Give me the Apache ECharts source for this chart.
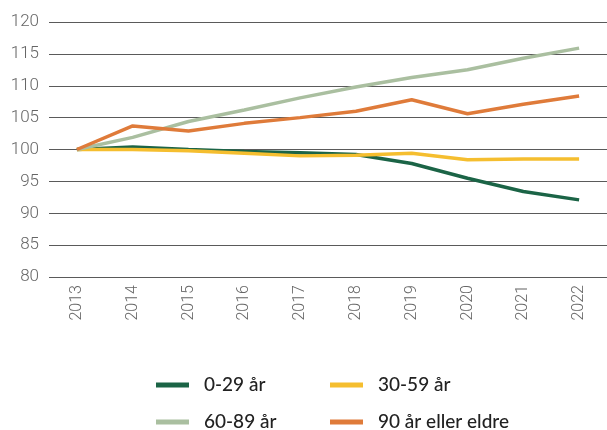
<!DOCTYPE html>
<html>
<head>
<meta charset="utf-8">
<script src="https://cdn.jsdelivr.net/npm/echarts@6/dist/echarts.min.js"></script>
<style>
  html, body { margin: 0; padding: 0; background: #fff; }
  #chart { width: 607px; height: 430px; }
</style>
</head>
<body>
<div id="chart"></div>
<script>
const years = ["2013", "2014", "2015", "2016", "2017", "2018", "2019", "2020", "2021", "2022"];
const age0to29 = [100, 100.4, 100.0, 99.7, 99.5, 99.2, 97.8, 95.5, 93.4, 92.1];
const age30to59 = [100, 100.0, 99.8, 99.4, 99.0, 99.1, 99.4, 98.4, 98.5, 98.5];
const age60to89 = [100, 101.9, 104.4, 106.2, 108.1, 109.8, 111.3, 112.5, 114.3, 115.9];
const age90plus = [100, 103.7, 102.9, 104.1, 105.0, 106.0, 107.8, 105.6, 107.1, 108.4];

const names = ["0-29 år", "30-59 år", "60-89 år", "90 år eller eldre"];
const colors = ["#1b6446", "#f5be2f", "#aabfa0", "#df7b3a"];

const chart = echarts.init(document.getElementById("chart"));

// one legend per item so the two columns line up
function legendItem(name, left, top) {
  return {
    data: [name],
    left: left,
    top: top,
    padding: 0,
    icon: "rect",
    itemWidth: 33,
    itemHeight: 5,
    selectedMode: false,
    textStyle: {
      fontFamily: "Lato",
      fontWeight: 500,
      fontSize: 19,
      lineHeight: 20,
      color: "#222",
      padding: [0, 0, 0, 10]
    }
  };
}

chart.setOption({
  color: colors,
  animation: false,
  grid: { left: 49, top: 22, width: 567, height: 255 },
  legend: [
    legendItem(names[0], 156, 375),
    legendItem(names[1], 330, 375),
    legendItem(names[2], 156, 412),
    legendItem(names[3], 330, 412)
  ],
  xAxis: {
    type: "category",
    data: years,
    boundaryGap: true,
    axisLine: { show: false },
    axisTick: { show: false },
    axisLabel: {
      rotate: 90,
      margin: 8,
      fontFamily: "Roboto",
      fontWeight: 300,
      fontSize: 16,
      color: "#666"
    }
  },
  yAxis: {
    type: "value",
    min: 80,
    max: 120,
    interval: 5,
    axisLine: { show: false },
    axisTick: { show: false },
    axisLabel: {
      margin: 10,
      fontFamily: "Roboto",
      fontWeight: 300,
      fontSize: 17,
      color: "#666"
    },
    splitLine: { lineStyle: { color: "#5a5a5a", width: 1 } }
  },
  series: [
    { name: names[0], type: "line", data: age0to29, symbol: "none", lineStyle: { width: 3.5 } },
    { name: names[1], type: "line", data: age30to59, symbol: "none", lineStyle: { width: 3.5 } },
    { name: names[2], type: "line", data: age60to89, symbol: "none", lineStyle: { width: 3.5 } },
    { name: names[3], type: "line", data: age90plus, symbol: "none", lineStyle: { width: 3.5 } }
  ]
});

window.addEventListener("resize", function () {
  chart.resize();
});
</script>
</body>
</html>
